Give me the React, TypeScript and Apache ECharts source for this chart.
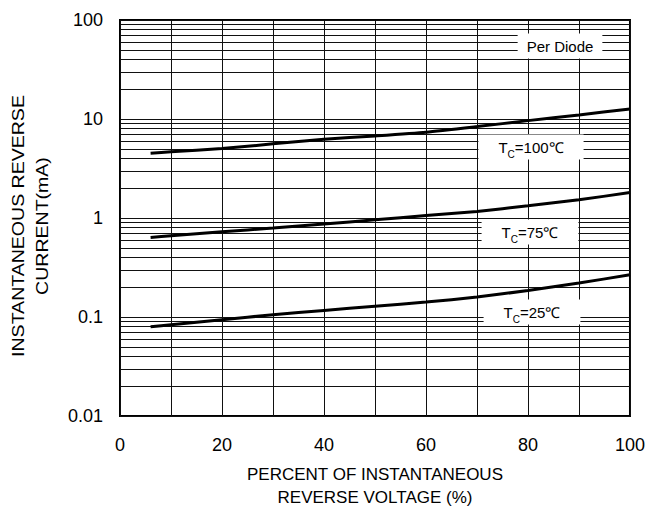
import React, { useEffect, useRef } from 'react';
import * as echarts from 'echarts';

const xValues = [6, 10, 20, 30, 40, 50, 60, 70, 80, 90, 100];
const tc100 = [4.52, 4.66, 5.03, 5.61, 6.25, 6.75, 7.36, 8.38, 9.63, 11.0, 12.65];
const tc75 = [0.636, 0.661, 0.726, 0.791, 0.868, 0.959, 1.059, 1.164, 1.328, 1.527, 1.808];
const tc25 = [0.0798, 0.0836, 0.0939, 0.1054, 0.1166, 0.1285, 0.1416, 0.159, 0.1854, 0.2203, 0.267];
const yTickLabels = ['0.01', '0.1', '1', '10', '100'];
const minorGridValues = [
  0.02, 0.03, 0.04, 0.05, 0.06, 0.07, 0.08, 0.09,
  0.2, 0.3, 0.4, 0.5, 0.6, 0.7, 0.8, 0.9,
  2, 3, 4, 5, 6, 7, 8, 9,
  20, 30, 40, 50, 60, 70, 80, 90,
];
const seriesNames = ['Tc=100', 'Tc=75', 'Tc=25'];

const FONT = 'Arial, "Liberation Sans", sans-serif';

export default function App() {
  const ref = useRef<HTMLDivElement>(null);
  useEffect(() => {
    if (!ref.current) return;
    const chart = echarts.init(ref.current, null, { renderer: 'svg' });
    const mk = (vals: number[]) => xValues.map((x, i) => [x, vals[i]]);
    const lineStyle = { color: '#000', width: 3 };
    const tcLabel = (x: number, y: number, temp: string) => ({
      type: 'text',
      x,
      y,
      z: 100,
      style: {
        text: `{t|T}{s|C}{t|=${temp}℃}`,
        align: 'center',
        verticalAlign: 'middle',
        fontFamily: FONT,
        backgroundColor: '#fff',
        padding: [4, 20, 3, 20],
        rich: {
          t: { fontSize: 15, fontFamily: FONT, fill: '#000', lineHeight: 18, verticalAlign: 'middle' },
          s: { fontSize: 10, fontFamily: FONT, fill: '#000', lineHeight: 10, verticalAlign: 'bottom', padding: [0, 0, -3, 0] },
        },
      },
    });
    chart.setOption({
      animation: false,
      backgroundColor: '#fff',
      grid: {
        left: 120,
        right: 18,
        top: 20,
        bottom: 97,
        show: true,
        borderColor: '#000',
        borderWidth: 2,
        backgroundColor: 'transparent',
      },
      xAxis: {
        type: 'value',
        min: 0,
        max: 100,
        interval: 10,
        axisLine: { show: false },
        axisTick: { show: false },
        splitLine: { show: true, lineStyle: { color: '#111', width: 1 } },
        axisLabel: {
          margin: 20,
          fontSize: 18,
          color: '#000',
          fontFamily: FONT,
          formatter: (v: number) => (v % 20 === 0 ? String(v) : ''),
        },
      },
      yAxis: {
        type: 'log',
        logBase: 10,
        min: 0.01,
        max: 100,
        axisLine: { show: false },
        axisTick: { show: false },
        splitLine: { show: true, lineStyle: { color: '#111', width: 1 } },
        axisLabel: {
          margin: 17,
          fontSize: 18,
          color: '#000',
          fontFamily: FONT,
          formatter: (v: number) => {
            const idx = Math.round(Math.log10(v)) + 2;
            return yTickLabels[idx] ?? '';
          },
        },
      },
      series: [
        {
          name: seriesNames[0],
          type: 'line',
          data: mk(tc100),
          showSymbol: false,
          smooth: 0.2,
          lineStyle,
          z: 5,
          markLine: {
            silent: true,
            symbol: 'none',
            label: { show: false },
            lineStyle: { color: '#111', width: 1, type: 'solid' },
            data: minorGridValues.map((v) => ({ yAxis: v })),
            z: 1,
          },
        },
        { name: seriesNames[1], type: 'line', data: mk(tc75), showSymbol: false, smooth: 0.2, lineStyle, z: 5 },
        { name: seriesNames[2], type: 'line', data: mk(tc25), showSymbol: false, smooth: 0.2, lineStyle, z: 5 },
      ],
      graphic: [
        {
          type: 'text',
          x: 560,
          y: 46,
          z: 100,
          style: {
            text: 'Per Diode',
            align: 'center',
            verticalAlign: 'middle',
            fontSize: 15,
            fontFamily: FONT,
            fill: '#000',
            backgroundColor: '#fff',
            padding: [2, 9, 8, 9],
          },
        },
        tcLabel(531, 147, '100'),
        tcLabel(530, 232, '75'),
        tcLabel(532, 312, '25'),
        {
          type: 'text',
          x: 30,
          y: 226,
          rotation: Math.PI / 2,
          scaleX: 1.15,
          style: {
            text: 'INSTANTANEOUS REVERSE\nCURRENT(mA)',
            align: 'center',
            verticalAlign: 'middle',
            fontSize: 17,
            lineHeight: 24,
            fontFamily: FONT,
            fill: '#000',
          },
        },
        {
          type: 'text',
          x: 375,
          y: 486,
          style: {
            text: 'PERCENT OF INSTANTANEOUS\nREVERSE VOLTAGE (%)',
            align: 'center',
            verticalAlign: 'middle',
            fontSize: 17,
            lineHeight: 23,
            fontFamily: FONT,
            fill: '#000',
          },
        },
      ],
    });
    return () => chart.dispose();
  }, []);
  return (
    <div
      ref={ref}
      style={{ position: 'fixed', left: 0, top: 0, width: 648, height: 513 }}
    />
  );
}
